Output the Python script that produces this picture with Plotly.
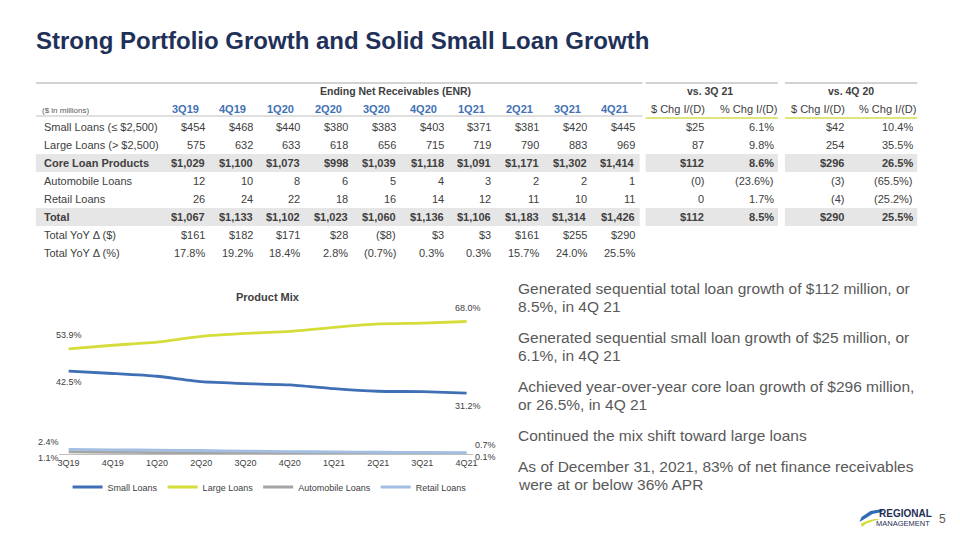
import plotly.graph_objects as go

W, H = 960, 540
FONT = "Arial, Liberation Sans, sans-serif"
DARK = "#404040"
GRAY = "#595959"

# ---------------- data ----------------
quarters = ["3Q19", "4Q19", "1Q20", "2Q20", "3Q20", "4Q20", "1Q21", "2Q21", "3Q21", "4Q21"]
row_labels = ["Small Loans (≤ $2,500)", "Large Loans (> $2,500)", "Core Loan Products",
              "Automobile Loans", "Retail Loans", "Total", "Total YoY Δ ($)", "Total YoY Δ (%)"]
small_enr = [454, 468, 440, 380, 383, 403, 371, 381, 420, 445]
large_enr = [575, 632, 633, 618, 656, 715, 719, 790, 883, 969]
core_enr = [1029, 1100, 1073, 998, 1039, 1118, 1091, 1171, 1302, 1414]
auto_enr = [12, 10, 8, 6, 5, 4, 3, 2, 2, 1]
retail_enr = [26, 24, 22, 18, 16, 14, 12, 11, 10, 11]
total_enr = [1067, 1133, 1102, 1023, 1060, 1136, 1106, 1183, 1314, 1426]
yoy_dollar = [161, 182, 171, 28, -8, 3, 3, 161, 255, 290]
yoy_pct = [17.8, 19.2, 18.4, 2.8, -0.7, 0.3, 0.3, 15.7, 24.0, 25.5]

chg_headers = ["$ Chg I/(D)", "% Chg I/(D)", "$ Chg I/(D)", "% Chg I/(D)"]
vs3q21_dollar = ["$25", "87", "$112", "(0)", "0", "$112"]
vs3q21_pct = ["6.1%", "9.8%", "8.6%", "(23.6%)", "1.7%", "8.5%"]
vs4q20_dollar = ["$42", "254", "$296", "(3)", "(4)", "$290"]
vs4q20_pct = ["10.4%", "35.5%", "26.5%", "(65.5%)", "(25.2%)", "25.5%"]

mix_small = [42.5, 41.3, 39.9, 37.1, 36.1, 35.5, 33.5, 32.2, 32.0, 31.2]
mix_large = [53.9, 55.8, 57.4, 60.4, 61.9, 62.9, 65.0, 66.8, 67.2, 68.0]
mix_auto = [1.1, 0.9, 0.7, 0.6, 0.5, 0.4, 0.3, 0.2, 0.2, 0.1]
mix_retail = [2.4, 2.1, 2.0, 1.8, 1.5, 1.2, 1.1, 0.9, 0.8, 0.7]

bullets = [
    ["Generated sequential total loan growth of $112 million, or", "8.5%, in 4Q 21"],
    ["Generated sequential small loan growth of $25 million, or", "6.1%, in 4Q 21"],
    ["Achieved year-over-year core loan growth of $296 million,", "or 26.5%, in 4Q 21"],
    ["Continued the mix shift toward large loans"],
    ["As of December 31, 2021, 83% of net finance receivables", "were at or below 36% APR"],
]

# ---------------- helpers ----------------
def px(x):
    return x / W

def py(y):
    return 1 - y / H

annotations = []
shapes = []

def text(x, y, s, size=11, color=DARK, bold=False, anchor="left", family=FONT):
    if bold:
        s = "<b>" + s + "</b>"
    annotations.append(dict(x=px(x), y=py(y), xref="paper", yref="paper", text=s,
                            showarrow=False, xanchor=anchor, yanchor="middle",
                            font=dict(size=size, color=color, family=family), borderpad=0))

def hline(x0, x1, y, color, width=1):
    shapes.append(dict(type="line", xref="paper", yref="paper", x0=px(x0), x1=px(x1),
                       y0=py(y), y1=py(y), line=dict(color=color, width=width)))

def rect(x0, x1, y0, y1, color):
    shapes.append(dict(type="rect", xref="paper", yref="paper", x0=px(x0), x1=px(x1),
                       y0=py(y1), y1=py(y0), fillcolor=color, line=dict(width=0), layer="below"))

def money(v, dollar):
    s = f"{abs(v):,}"
    if dollar:
        s = "$" + s
    return f"({s})" if v < 0 else s

def pct(v):
    s = f"{abs(v):.1f}%"
    return f"({s})" if v < 0 else s

# ---------------- title ----------------
text(34, 40, "Strong Portfolio Growth and Solid Small Loan Growth", size=24,
     color="#1F3158", bold=True)

# ---------------- table ----------------
row_y = [127, 145, 163, 181, 199, 217, 235, 253]
bold_rows = {2, 5}
for r in bold_rows:
    rect(35, 642, row_y[r] - 9, row_y[r] + 9, "#E7E6E6")
    rect(648, 781, row_y[r] - 9, row_y[r] + 9, "#E7E6E6")
    rect(788, 921, row_y[r] - 9, row_y[r] + 9, "#E7E6E6")

hline(35, 645, 83, "#A6A6A6", 1)
hline(648, 781, 83, "#A6A6A6", 1)
hline(788, 921, 83, "#A6A6A6", 1)
hline(35, 645, 116, "#BFBFBF", 1)
hline(648, 781, 118, "#D6DB4F", 1.5)
hline(788, 921, 118, "#D6DB4F", 1.5)

text(397, 91, "Ending Net Receivables (ENR)", size=10.5, color=DARK, bold=True, anchor="center")
text(713, 91, "vs. 3Q 21", size=10.5, color=DARK, bold=True, anchor="center")
text(854, 91, "vs. 4Q 20", size=10.5, color=DARK, bold=True, anchor="center")
text(40, 110, "($ in millions)", size=8, color=GRAY)

col_right = [206 + 48 * i for i in range(len(quarters))]
for i, q in enumerate(quarters):
    text(col_right[i] - 21, 109, q, size=11, color="#3F72B5", bold=True, anchor="center")

chg_right = [708, 778, 848, 918]
for j, h in enumerate(chg_headers):
    text(chg_right[j] - 27, 109, h, size=11, color=DARK, anchor="center")

enr_rows = [
    [money(v, True) for v in small_enr],
    [money(v, False) for v in large_enr],
    [money(v, True) for v in core_enr],
    [money(v, False) for v in auto_enr],
    [money(v, False) for v in retail_enr],
    [money(v, True) for v in total_enr],
    [money(v, True) for v in yoy_dollar],
    [pct(v) for v in yoy_pct],
]
for r, lab in enumerate(row_labels):
    b = r in bold_rows
    text(42, row_y[r], lab, size=11, color=DARK, bold=b)
    for i, s in enumerate(enr_rows[r]):
        text(col_right[i], row_y[r], s, size=11, color=DARK, bold=b, anchor="right")

chg_cols = [vs3q21_dollar, vs3q21_pct, vs4q20_dollar, vs4q20_pct]
for j, col in enumerate(chg_cols):
    for r, s in enumerate(col):
        text(chg_right[j], row_y[r], s, size=11, color=DARK, bold=r in bold_rows, anchor="right")

# ---------------- bullets ----------------
para_y = [288, 337, 386, 435, 466]
for p, lines in enumerate(bullets):
    for k, ln in enumerate(lines):
        text(519, para_y[p] + 18.5 * k, ln, size=15.5, color=GRAY)

# ---------------- chart ----------------
fig = go.Figure()
series = [
    ("Small Loans", mix_small, "#3F6FB5"),
    ("Large Loans", mix_large, "#D5DD3A"),
    ("Automobile Loans", mix_auto, "#A5A5A5"),
    ("Retail Loans", mix_retail, "#A3BEE2"),
]
for name, vals, color in series:
    fig.add_trace(go.Scatter(x=quarters, y=vals, name=name, mode="lines",
                             line=dict(color=color, width=2.8, shape="spline", smoothing=0.5),
                             hoverinfo="skip"))

text(268, 297, "Product Mix", size=11, color=DARK, bold=True, anchor="center")

def dlabel(xi, vals, dx, dy):
    annotations.append(dict(x=quarters[xi], y=vals[xi], xref="x", yref="y",
                            text=f"{vals[xi]:.1f}%", showarrow=False,
                            xshift=dx, yshift=dy, xanchor="center", yanchor="middle",
                            font=dict(size=9, color=DARK, family=FONT)))

last = len(quarters) - 1
dlabel(0, mix_large, 0, 14)
dlabel(last, mix_large, 1, 14)
dlabel(0, mix_small, 0, -11)
dlabel(last, mix_small, 1, -13)
dlabel(0, mix_retail, -20, 7)
dlabel(0, mix_auto, -20, -6)
dlabel(last, mix_retail, 19, 8)
dlabel(last, mix_auto, 19, -3)

# ---------------- logo & page number ----------------
def path(points):
    d = "M" + " L".join(f"{px(x):.5f},{py(y):.5f}" for x, y in points) + " Z"
    return d

shapes.append(dict(type="path", xref="paper", yref="paper",
                   path=path([(886, 509), (874, 511), (865, 517), (863, 522), (868, 519),
                              (876, 514), (886, 512)]),
                   fillcolor="#2E6DB4", line=dict(width=0)))
shapes.append(dict(type="path", xref="paper", yref="paper",
                   path=path([(864, 524), (870, 521), (878, 519), (884, 519), (877, 521),
                              (869, 524), (866, 527)]),
                   fillcolor="#D5DD3A", line=dict(width=0)))
text(909, 513, "REGIONAL", size=10, color="#1F3056", bold=True, anchor="center")
text(907, 523, "MANAGEMENT", size=7.5, color="#1F3056", anchor="center")
text(946, 519, "5", size=12, color=GRAY, anchor="center")

fig.update_layout(
    width=W, height=H,
    margin=dict(l=0, r=0, t=0, b=0),
    paper_bgcolor="white", plot_bgcolor="white",
    font=dict(family=FONT, color=DARK),
    xaxis=dict(domain=[px(58.2), px(474.7)], range=[-0.22, 9.15], type="category",
               showgrid=False, zeroline=False, showline=True, linecolor="#BFBFBF",
               linewidth=1, ticks="", tickfont=dict(size=9, color=DARK)),
    yaxis=dict(domain=[py(454), py(317.6)], range=[0, 70], visible=False,
               showgrid=False, zeroline=False),
    legend=dict(orientation="h", x=px(270), xanchor="center", y=py(487), yanchor="middle",
                font=dict(size=9, color=DARK), bgcolor="rgba(0,0,0,0)", itemwidth=30,
                traceorder="normal"),
    annotations=annotations,
    shapes=shapes,
)

fig.write_html("out.html", config={"displayModeBar": False},
               post_script="document.body.style.margin='0px';")
